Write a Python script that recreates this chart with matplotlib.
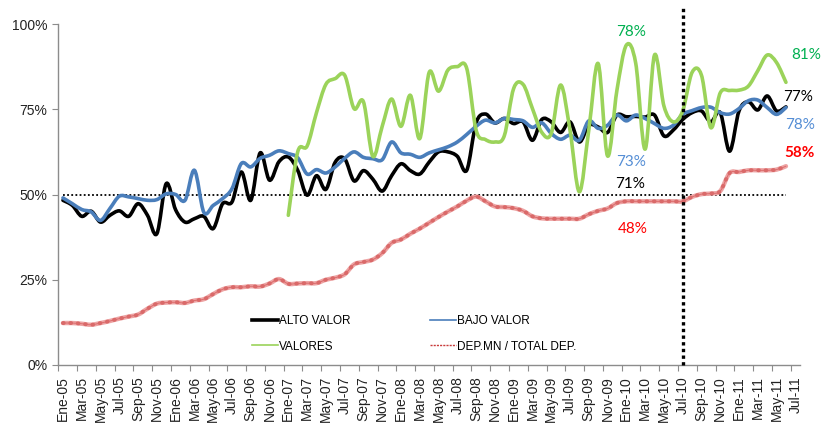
import numpy as np
import matplotlib
matplotlib.use("Agg")
import matplotlib.pyplot as plt
from matplotlib.path import Path
from matplotlib.patches import PathPatch
from matplotlib.lines import Line2D

plt.rcParams['font.family'] = ['Liberation Sans', 'DejaVu Sans']

# monthly categories Ene-05 .. Jul-11 (79), labels every 2 months
meses = ["Ene", "Mar", "May", "Jul", "Sep", "Nov"]
anios = ["05", "06", "07", "08", "09", "10", "11"]
etiquetas = [f"{m}-{a}" for a in anios for m in meses][:40]
n_cat = 79

alto_valor = [48.3, 46.8, 43.6, 45.1, 41.9, 43.9, 45.2, 43.6, 47.3, 43.9,
              38.5, 53.2, 45.5, 41.9, 42.9, 43.6, 40.0, 47.3, 47.8, 56.6,
              48.3, 62.2, 54.2, 59.6, 61.0, 57.1, 49.8, 55.5, 51.5, 59.5,
              60.5, 54.0, 57.0, 54.5, 51.0, 55.5, 59.0, 57.0, 56.0, 59.5,
              62.5, 62.5, 61.2, 57.1, 71.0, 73.6, 71.0, 72.3, 70.8, 71.3,
              65.9, 72.0, 71.3, 68.2, 71.3, 65.4, 70.3, 69.8, 68.2, 73.3,
              72.8, 72.9, 72.7, 73.3, 67.2, 68.9, 72.0, 74.0, 74.5, 71.3,
              74.0, 62.7, 74.5, 77.2, 74.8, 78.9, 74.5, 75.7]

bajo_valor = [49.0, 47.3, 45.6, 44.9, 42.4, 45.9, 49.5, 49.3, 48.8, 48.3,
              48.5, 50.2, 50.0, 48.3, 57.1, 44.8, 46.8, 48.8, 51.7, 59.1,
              58.1, 60.6, 61.5, 62.8, 62.0, 60.8, 56.0, 57.3, 56.3, 58.1,
              60.6, 62.5, 60.9, 60.5, 60.2, 65.4, 62.2, 61.8, 60.9, 62.2,
              63.1, 64.0, 65.4, 67.6, 70.0, 71.8, 71.0, 72.3, 72.0, 71.6,
              69.7, 71.0, 67.9, 66.2, 67.4, 65.9, 71.6, 69.4, 70.3, 73.3,
              71.6, 73.3, 72.3, 70.8, 69.4, 70.3, 73.5, 74.6, 75.5, 75.6,
              74.0, 73.6, 75.2, 77.5, 77.7, 75.5, 73.5, 75.5]

# VALORES starts at Ene-07 (category 24)
valores_inicio = 24
valores = [43.9, 62.5, 64.2, 74.0, 82.3, 84.0, 85.0, 75.2, 77.2, 61.2,
           70.0, 78.0, 70.0, 79.1, 66.4, 85.8, 80.3, 86.5, 87.5, 87.0,
           68.9, 66.1, 65.4, 67.2, 81.1, 82.3, 75.2, 68.2, 67.9, 82.1,
           68.9, 50.8, 68.9, 88.4, 61.3, 80.6, 93.8, 88.5, 63.3, 90.9,
           76.0, 71.3, 74.5, 85.8, 85.0, 69.6, 79.8, 80.5, 80.6, 81.8,
           86.3, 90.9, 88.7, 82.9]

dep_mn = [12.3, 12.3, 12.1, 11.8, 12.3, 12.9, 13.6, 14.2, 14.8, 16.5,
          18.0, 18.3, 18.4, 18.2, 18.9, 19.3, 20.8, 22.2, 22.8, 22.8,
          23.1, 23.0, 23.9, 25.2, 23.8, 23.9, 24.0, 24.0, 25.0, 25.6,
          26.6, 29.5, 30.2, 30.9, 32.8, 35.8, 36.8, 38.5, 40.0, 41.7,
          43.4, 45.0, 46.5, 48.2, 49.4, 48.0, 46.5, 46.3, 46.0, 45.2,
          43.6, 43.0, 42.9, 42.9, 42.9, 42.9, 44.2, 45.2, 45.9, 47.5,
          48.0, 48.0, 48.0, 48.0, 48.0, 48.0, 48.0, 49.3, 50.1, 50.3,
          51.0, 56.3, 56.6, 57.1, 57.1, 57.1, 57.3, 58.3]

umbral = 50
corte = 66  # Jul-10


def smooth_path(x, y):
    # Excel-like smoothed line: cubic bezier through every point
    x = np.asarray(x, float)
    y = np.asarray(y, float)
    px = np.concatenate([[x[0]], x, [x[-1]]])
    py = np.concatenate([[y[0]], y, [y[-1]]])
    verts = [(x[0], y[0])]
    codes = [Path.MOVETO]
    for k in range(len(x) - 1):
        c1 = (x[k] + (px[k + 2] - px[k]) / 6, y[k] + (py[k + 2] - py[k]) / 6)
        c2 = (x[k + 1] - (px[k + 3] - px[k + 1]) / 6, y[k + 1] - (py[k + 3] - py[k + 1]) / 6)
        verts += [c1, c2, (x[k + 1], y[k + 1])]
        codes += [Path.CURVE4] * 3
    return Path(verts, codes)


def draw(ax, x, y, **kw):
    patch = PathPatch(smooth_path(x, y), fill=False, joinstyle='round', capstyle='round', **kw)
    ax.add_patch(patch)


fig = plt.figure(figsize=(8.23, 4.25), dpi=100)
ax = fig.add_axes([0.0708, 0.1412, 0.9013, 0.8023])

x_all = np.arange(len(alto_valor))
x_val = np.arange(valores_inicio, valores_inicio + len(valores))

negro = '#000000'
azul = '#4a7ebb'
verde = '#9bd35a'
rojo_claro = '#eda3a3'
rojo = '#c83a3a'

# reference lines
ax.plot(x_all, [umbral] * len(x_all), color='black', lw=1.3,
        linestyle=(0, (1, 1.3)), zorder=2)
ax.plot([corte, corte], [0, 105], color='black', lw=2.4,
        linestyle=(0, (1, 1)), dash_capstyle='butt', clip_on=False, zorder=6)

draw(ax, x_all, dep_mn, edgecolor=rojo_claro, lw=3.2, zorder=3)
draw(ax, x_all, dep_mn, edgecolor=rojo, lw=2.8, alpha=0.55,
     linestyle=(0, (0.2, 1.7)), zorder=3)
draw(ax, x_all, dep_mn, edgecolor='#dc6b6b', lw=0.7, zorder=3)
draw(ax, x_all, alto_valor, edgecolor=negro, lw=2.6, zorder=4)
draw(ax, x_all, bajo_valor, edgecolor=azul, lw=2.6, zorder=4)
draw(ax, x_val, valores, edgecolor=verde, lw=2.6, zorder=5)

ax.set_xlim(-0.5, n_cat - 0.5)
ax.set_ylim(0, 100)

for s in ['top', 'right']:
    ax.spines[s].set_visible(False)
for s in ['left', 'bottom']:
    ax.spines[s].set_color('#8c8c8c')
    ax.spines[s].set_linewidth(1.0)

ax.set_yticks([0, 25, 50, 75, 100])
ax.set_yticklabels(['0%', '25%', '50%', '75%', '100%'])
ax.tick_params(axis='y', direction='out', length=4, color='#8c8c8c',
               labelsize=10, labelcolor='#222222', pad=4)

ax.set_xticks(np.arange(-0.5, n_cat, 2))
ax.set_xticklabels([])
ax.set_xticks(np.arange(0, n_cat, 2), minor=True)
ax.set_xticklabels(etiquetas, minor=True, rotation=90)
ax.tick_params(axis='x', which='major', direction='out', length=4, color='#8c8c8c')
ax.tick_params(axis='x', which='minor', length=0, labelsize=10,
               labelcolor='#222222', pad=8)

handles = [
    Line2D([], [], color=negro, lw=2.6),
    Line2D([], [], color=verde, lw=1.2),
    Line2D([], [], color=azul, lw=1.2),
    Line2D([], [], color=rojo, lw=1.0, linestyle=(0, (1.5, 0.8))),
]
labels = ['ALTO VALOR', 'VALORES', 'BAJO VALOR', 'DEP.MN / TOTAL DEP.']
fig.legend(handles, labels, ncol=2, loc='upper left',
           bbox_to_anchor=(252 / 823, 1 - 315 / 425), frameon=False,
           fontsize=8.5, handlelength=2.2, handletextpad=0.1,
           columnspacing=6.75, labelspacing=1.15, borderpad=0, borderaxespad=0)

notas = [
    (60.5, 97.6, '78%', '#00b050', 'normal'),
    (79.2, 90.9, '81%', '#00b050', 'normal'),
    (78.3, 78.6, '77%', '#000000', 'normal'),
    (78.5, 70.3, '78%', '#558ed5', 'normal'),
    (78.4, 62.1, '58%', '#ff0000', 'bold'),
    (60.5, 59.5, '73%', '#558ed5', 'normal'),
    (60.4, 53.0, '71%', '#000000', 'normal'),
    (60.7, 39.9, '48%', '#ff0000', 'normal'),
]
for xi, yi, txt, col, peso in notas:
    ax.text(xi, yi, txt, color=col, fontweight=peso, fontsize=11,
            family=['Lato', 'DejaVu Sans'], ha='center', va='center',
            clip_on=False, zorder=7)

fig.savefig("out.png", dpi=100)
